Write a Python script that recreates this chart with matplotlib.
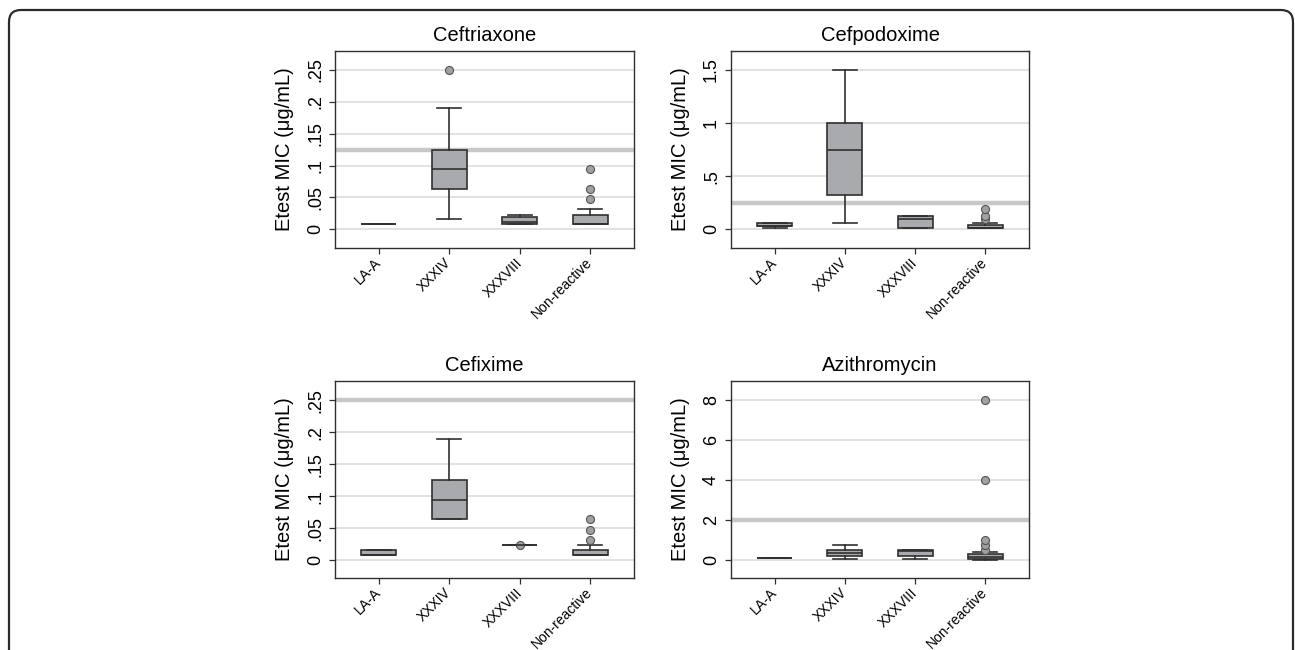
import matplotlib
matplotlib.use('Agg')
import matplotlib.pyplot as plt
from matplotlib.patches import FancyBboxPatch
from matplotlib.transforms import IdentityTransform, ScaledTranslation

plt.rcParams['font.family'] = ['Liberation Sans', 'DejaVu Sans']

categories = ['LA-A', 'XXXIV', 'XXXVIII', 'Non-reactive']
drugs = ['Ceftriaxone', 'Cefpodoxime', 'Cefixime', 'Azithromycin']
ylabel = 'Etest MIC (μg/mL)'

# Ceftriaxone
cro_q1 = [0.008, 0.064, 0.008, 0.008]
cro_med = [0.008, 0.094, 0.012, 0.008]
cro_q3 = [0.008, 0.125, 0.020, 0.023]
cro_lo = [0.008, 0.016, 0.008, 0.008]
cro_hi = [0.008, 0.19, 0.023, 0.032]
cro_fliers = [[], [0.25], [], [0.047, 0.064, 0.094]]
cro_breakpoint = 0.125
cro_ticks = [0, 0.05, 0.1, 0.15, 0.2, 0.25]
cro_ticklabels = ['0', '.05', '.1', '.15', '.2', '.25']
cro_ylim = (-0.0293, 0.2798)

# Cefpodoxime
cpd_q1 = [0.032, 0.32, 0.008, 0.008]
cpd_med = [0.032, 0.75, 0.094, 0.016]
cpd_q3 = [0.064, 1.0, 0.125, 0.038]
cpd_lo = [0.016, 0.064, 0.008, 0.008]
cpd_hi = [0.064, 1.5, 0.125, 0.064]
cpd_fliers = [[], [], [], [0.094, 0.125, 0.19]]
cpd_breakpoint = 0.25
cpd_ticks = [0, 0.5, 1, 1.5]
cpd_ticklabels = ['0', '.5', '1', '1.5']
cpd_ylim = (-0.176, 1.679)

# Cefixime
cfm_q1 = [0.008, 0.064, 0.023, 0.008]
cfm_med = [0.008, 0.094, 0.023, 0.008]
cfm_q3 = [0.016, 0.125, 0.023, 0.016]
cfm_lo = [0.008, 0.064, 0.023, 0.008]
cfm_hi = [0.016, 0.19, 0.023, 0.023]
cfm_fliers = [[], [], [0.023], [0.032, 0.047, 0.064]]
cfm_breakpoint = 0.25
cfm_ticks = [0, 0.05, 0.1, 0.15, 0.2, 0.25]
cfm_ticklabels = ['0', '.05', '.1', '.15', '.2', '.25']
cfm_ylim = (-0.0282, 0.2802)

# Azithromycin
azm_q1 = [0.125, 0.19, 0.19, 0.064]
azm_med = [0.125, 0.375, 0.44, 0.17]
azm_q3 = [0.125, 0.5, 0.5, 0.28]
azm_lo = [0.125, 0.03, 0.03, 0.016]
azm_hi = [0.125, 0.75, 0.5, 0.38]
azm_fliers = [[], [], [], [0.5, 0.75, 1.0, 4.0, 8.0]]
azm_breakpoint = 2
azm_ticks = [0, 2, 4, 6, 8]
azm_ticklabels = ['0', '2', '4', '6', '8']
azm_ylim = (-0.9, 8.95)

panels = [
    (cro_q1, cro_med, cro_q3, cro_lo, cro_hi, cro_fliers, cro_breakpoint, cro_ticks, cro_ticklabels, cro_ylim),
    (cpd_q1, cpd_med, cpd_q3, cpd_lo, cpd_hi, cpd_fliers, cpd_breakpoint, cpd_ticks, cpd_ticklabels, cpd_ylim),
    (cfm_q1, cfm_med, cfm_q3, cfm_lo, cfm_hi, cfm_fliers, cfm_breakpoint, cfm_ticks, cfm_ticklabels, cfm_ylim),
    (azm_q1, azm_med, azm_q3, azm_lo, azm_hi, azm_fliers, azm_breakpoint, azm_ticks, azm_ticklabels, azm_ylim),
]

W, H = 1295, 650
fig = plt.figure(figsize=(W / 100, H / 100), dpi=100)
fig.patch.set_facecolor('white')

# axes rectangles in pixels (left, top, right, bottom)
rects = [(335, 51, 634, 248), (731, 51, 1029, 248),
         (335, 381, 634, 578), (731, 381, 1029, 578)]

dark = '#303030'
box_fill = '#a9aaad'
positions = [1, 2, 3, 4]
label_shift = ScaledTranslation(3 / 72, 0, fig.dpi_scale_trans)

for (q1, med, q3, lo, hi, fl, bp, ticks, tlabels, ylim), title, (l, t, r, b) in zip(panels, drugs, rects):
    ax = fig.add_axes([l / W, 1 - b / H, (r - l) / W, (b - t) / H])
    stats = []
    for i in range(len(categories)):
        stats.append(dict(q1=q1[i], med=med[i], q3=q3[i], whislo=lo[i], whishi=hi[i],
                          fliers=fl[i], label=categories[i]))
    for tk in ticks:
        ax.axhline(tk, color='#e2e2e2', lw=1.4, zorder=0)
    ax.axhline(bp, color='#c8c8c8', lw=3.2, zorder=1)
    ax.bxp(stats, positions=positions, widths=0.5, patch_artist=True,
           boxprops=dict(facecolor=box_fill, edgecolor=dark, linewidth=1.2),
           medianprops=dict(color=dark, linewidth=1.2),
           whiskerprops=dict(color=dark, linewidth=1.2),
           capprops=dict(color=dark, linewidth=1.2),
           capwidths=0.34,
           flierprops=dict(marker='o', markerfacecolor='#a0a0a0', markeredgecolor='#555555',
                           markersize=5.8, markeredgewidth=0.8),
           zorder=3)
    ax.set_xlim(0.38, 4.62)
    ax.set_ylim(*ylim)
    ax.set_yticks(ticks)
    ax.set_yticklabels(tlabels, rotation=90, va='center', fontsize=13)
    ax.set_xticks(positions)
    ax.set_xticklabels(categories, rotation=45, ha='right', va='center',
                       rotation_mode='anchor', fontsize=10)
    for lab in ax.get_xticklabels():
        lab.set_transform(lab.get_transform() + label_shift)
    ax.tick_params(axis='both', direction='out', length=4, color=dark, width=0.9)
    ax.tick_params(axis='y', pad=4)
    ax.tick_params(axis='x', pad=5)
    ax.set_ylabel(ylabel, fontsize=14.5, labelpad=9.5)
    ax.set_title(title, fontsize=14.5, pad=7)
    for s in ax.spines.values():
        s.set_color(dark)
        s.set_linewidth(1.0)

frame = FancyBboxPatch((9, -40), 1293 - 9, (H - 10) + 40,
                       boxstyle='round,pad=0,rounding_size=12',
                       transform=IdentityTransform(), facecolor='none',
                       edgecolor='#2b2b2b', linewidth=1.6, clip_on=False)
fig.add_artist(frame)

fig.savefig('out.png', dpi=100, facecolor='white')
